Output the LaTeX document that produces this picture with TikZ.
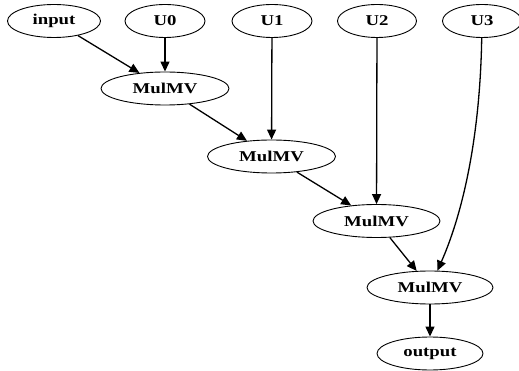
\documentclass[tikz,border=0pt]{standalone}
\usepackage{fontspec}
\setmainfont[FakeStretch=1.25]{Liberation Serif}
\usetikzlibrary{shapes.geometric,arrows.meta}
\tikzset{
  nd/.style={ellipse, draw=black, line width=0.9pt, inner sep=0pt, minimum height=33pt,
    font=\fontsize{15}{18}\selectfont\bfseries},
  edge/.style={line width=1.3pt, -{Triangle[length=10pt,width=9pt]}}
}
\begin{document}
\begin{tikzpicture}[x=1pt,y=-1pt]
\useasboundingbox (0,0) rectangle (519,371);
\node[nd, minimum width=93pt] (input) at (54,21) {input};
\node[nd, minimum width=80pt] (U0) at (165,21) {U0};
\node[nd, minimum width=80pt] (U1) at (272,21) {U1};
\node[nd, minimum width=79pt] (U2) at (377,21) {U2};
\node[nd, minimum width=79pt] (U3) at (482,21) {U3};
\node[nd, minimum width=128pt] (M1) at (165,88.5) {MulMV};
\node[nd, minimum width=128pt] (M2) at (271.5,156.5) {MulMV};
\node[nd, minimum width=127pt] (M3) at (376.5,221) {MulMV};
\node[nd, minimum width=126pt] (M4) at (430,287.5) {MulMV};
\node[nd, minimum width=106pt] (out) at (430,353.5) {output};
\draw[edge] (input) -- (M1);
\draw[edge] (U0) -- (M1);
\draw[edge] (M1) -- (M2);
\draw[edge] (U1) -- (M2);
\draw[edge] (M2) -- (M3);
\draw[edge] (U2) -- (M3);
\draw[edge] (M3) -- (M4);
\draw[edge] (U3) .. controls (480,140) and (462,215) .. (M4);
\draw[edge] (M4) -- (out);
\end{tikzpicture}
\end{document}
